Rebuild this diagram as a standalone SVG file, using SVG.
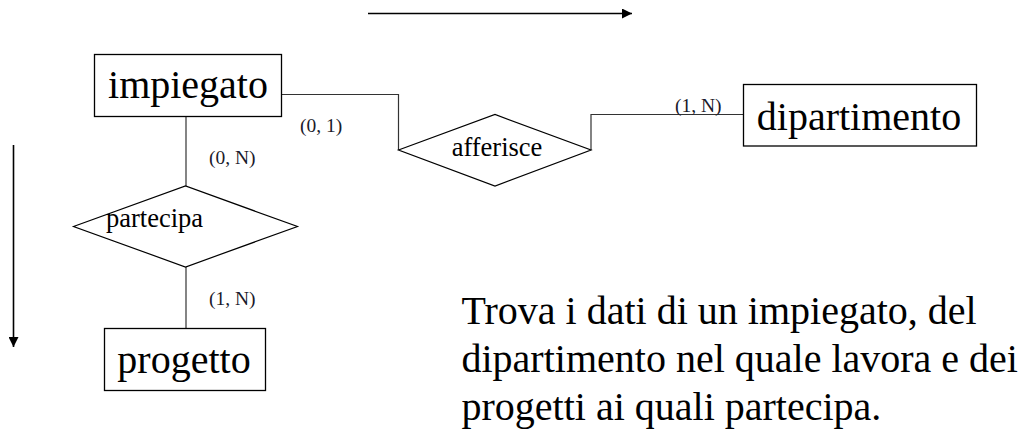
<svg xmlns="http://www.w3.org/2000/svg" width="1027" height="438" viewBox="0 0 1027 438">
<style>
.box{fill:#fff;stroke:#000;stroke-width:1.3}
.dia{fill:#fff;stroke:#000;stroke-width:1.2}
.big{font-family:"Liberation Serif","Times New Roman",serif;font-size:40px;fill:#000}
.mid{font-family:"Liberation Serif","Times New Roman",serif;font-size:26.5px;fill:#000}
.card{font-family:"Liberation Serif","Times New Roman",serif;font-size:19.5px;fill:#1a1a2a}
.edge{fill:none;stroke:#333;stroke-width:1.2}
.arr{fill:none;stroke:#000;stroke-width:1.6}
</style>
<defs>
<marker id="ah" viewBox="0 0 10 10" refX="10" refY="5" markerWidth="10" markerHeight="10" markerUnits="userSpaceOnUse" orient="auto">
<path d="M0,0 L10,5 L0,10 z" fill="#000"/>
</marker>
</defs>
<rect width="1027" height="438" fill="#fff"/>
<g id="arrows">
<line class="arr" x1="368" y1="13.5" x2="632" y2="13.5" marker-end="url(#ah)"/>
<line class="arr" x1="13.5" y1="145" x2="13.5" y2="347" marker-end="url(#ah)"/>
</g>
<g id="connectors">
<polyline class="edge" points="282,94.5 398.5,94.5 398.5,150"/>
<polyline class="edge" points="591,150 591,114.5 744,114.5"/>
<line class="edge" x1="186" y1="116" x2="186" y2="186"/>
<line class="edge" x1="186" y1="267" x2="186" y2="328"/>
<text class="card" x="300" y="132">(0, 1)</text>
<text class="card" x="675" y="112">(1, N)</text>
<text class="card" x="209" y="164">(0, N)</text>
<text class="card" x="209" y="305">(1, N)</text>
</g>
<g id="impiegato">
<rect class="box" x="94.5" y="54.5" width="187" height="62"/>
<text class="big" x="188" y="98" text-anchor="middle">impiegato</text>
</g>
<g id="dipartimento">
<rect class="box" x="743.5" y="84.5" width="233" height="61.5"/>
<text class="big" x="859" y="130" text-anchor="middle">dipartimento</text>
</g>
<g id="progetto">
<rect class="box" x="104.5" y="328.5" width="161" height="62"/>
<text class="big" x="184" y="372.5" text-anchor="middle">progetto</text>
</g>
<g id="afferisce">
<polygon class="dia" points="398.5,150 495,114.5 591,150 495,186"/>
<text class="mid" x="497" y="156" text-anchor="middle">afferisce</text>
</g>
<g id="partecipa">
<polygon class="dia" points="73.5,226.5 185.5,186 297.5,226.5 185.5,267"/>
<text class="mid" x="106" y="226.5">partecipa</text>
</g>
<g id="caption">
<text class="big" x="461.5" y="323.5">Trova i dati di un impiegato, del</text>
<text class="big" x="461.5" y="371.5">dipartimento nel quale lavora e dei</text>
<text class="big" x="461.5" y="420">progetti ai quali partecipa.</text>
</g>
</svg>
